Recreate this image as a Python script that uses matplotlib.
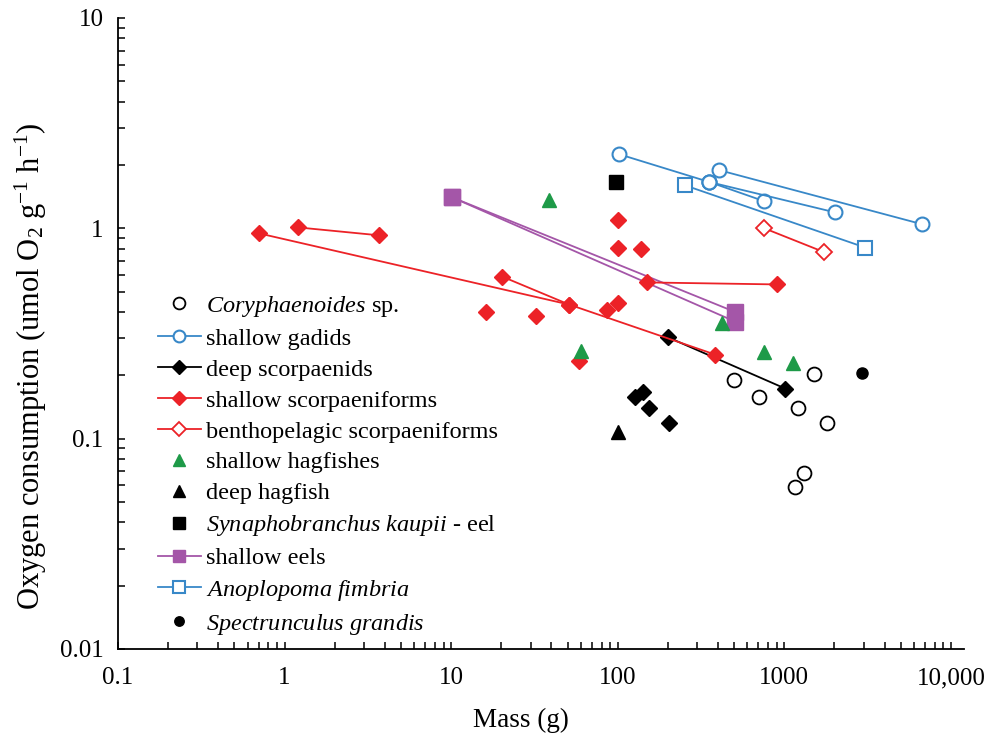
import matplotlib
matplotlib.use("Agg")
import matplotlib.pyplot as plt
from matplotlib.ticker import LogLocator, FixedLocator, NullFormatter

plt.rcParams['font.family'] = ['Liberation Serif', 'DejaVu Serif']
plt.rcParams['mathtext.fontset'] = 'custom'
plt.rcParams['mathtext.rm'] = 'Liberation Serif'
plt.rcParams['mathtext.it'] = 'Liberation Serif:italic'

# ---------------- data ----------------
cory_x = [501, 708, 1213, 1514, 1811, 1318, 1164]
cory_y = [0.189, 0.158, 0.140, 0.204, 0.119, 0.069, 0.059]

gadid_lines = [
    ([102, 355], [2.25, 1.66]),
    ([355, 759], [1.66, 1.345]),
    ([355, 2024], [1.66, 1.19]),
    ([407, 6745], [1.89, 1.045]),
]

deep_scorp_line_x = [201, 1014]
deep_scorp_line_y = [0.303, 0.173]
deep_scorp_x = [127, 142, 155, 204]
deep_scorp_y = [0.158, 0.166, 0.1405, 0.119]

shallow_scorp_lines = [
    ([0.703, 51.1, 385], [0.946, 0.434, 0.251]),
    ([1.205, 3.70], [1.01, 0.926]),
    ([20.2, 51.1], [0.59, 0.434]),
    ([150, 908], [0.553, 0.541]),
]
shallow_scorp_x = [16.2, 32.4, 100.7, 100.7, 138, 86.5, 100.7, 58.7]
shallow_scorp_y = [0.398, 0.381, 1.10, 0.81, 0.794, 0.411, 0.44, 0.235]

bentho_x = [759, 1738]
bentho_y = [1.0, 0.77]

hag_x = [38.8, 60.3, 424, 759, 1133]
hag_y = [1.36, 0.262, 0.353, 0.257, 0.228]

deep_hag_x = [100.7]
deep_hag_y = [0.108]

synaph_x = [98]
synaph_y = [1.66]

eel_lines = [
    ([10.1, 508], [1.405, 0.40]),
    ([10.1, 508], [1.405, 0.36]),
]

anop_x = [254, 3065]
anop_y = [1.60, 0.81]

spect_x = [2940]
spect_y = [0.206]

x_ticks = [0.1, 1, 10, 100, 1000, 10000]
x_ticklabels = ['0.1', '1', '10', '100', '1000', '10,000']
y_ticks = [0.01, 0.1, 1, 10]
y_ticklabels = ['0.01', '0.1', '1', '10']

# ---------------- colors ----------------
BLUE = '#3888c8'
RED = '#ec2227'
GREEN = '#1e9a48'
PURPLE = '#a456a8'
BLACK = '#000000'

fig = plt.figure(figsize=(9.86, 7.40), dpi=100)
ax = fig.add_axes([0.1197, 0.1230, 0.858, 0.8527])
ax.set_xscale('log')
ax.set_yscale('log')

lw = 1.3
ms_c = 10
ms_d = 8

# Coryphaenoides
ax.plot(cory_x, cory_y, ls='none', marker='o', mfc='white', mec=BLACK,
        mew=1.3, ms=ms_c, label=r'$\it{Coryphaenoides}$ sp.', zorder=3)

# shallow gadids
for i, (xs, ys) in enumerate(gadid_lines):
    ax.plot(xs, ys, color=BLUE, lw=lw, marker='o', mfc='white', mec=BLUE,
            mew=1.5, ms=ms_c, label='shallow gadids' if i == 0 else None, zorder=3)

# deep scorpaenids
ax.plot(deep_scorp_line_x, deep_scorp_line_y, color=BLACK, lw=lw, marker='D',
        ms=ms_d, mfc=BLACK, mec=BLACK, label='deep scorpaenids', zorder=2)
ax.plot(deep_scorp_x, deep_scorp_y, ls='none', marker='D', ms=ms_d,
        mfc=BLACK, mec=BLACK, zorder=3)

# shallow scorpaeniforms
for i, (xs, ys) in enumerate(shallow_scorp_lines):
    ax.plot(xs, ys, color=RED, lw=lw, marker='D', ms=ms_d, mfc=RED, mec=RED,
            label='shallow scorpaeniforms' if i == 0 else None, zorder=3)
ax.plot(shallow_scorp_x, shallow_scorp_y, ls='none', marker='D', ms=ms_d,
        mfc=RED, mec=RED, zorder=3)

# benthopelagic scorpaeniforms
ax.plot(bentho_x, bentho_y, color=RED, lw=lw, marker='D', ms=ms_d, mfc='white',
        mec=RED, mew=1.3, label='benthopelagic scorpaeniforms', zorder=3)

# shallow hagfishes
ax.plot(hag_x, hag_y, ls='none', marker='^', ms=10.5, mfc=GREEN, mec=GREEN,
        label='shallow hagfishes', zorder=3)

# deep hagfish
ax.plot(deep_hag_x, deep_hag_y, ls='none', marker='^', ms=10.5, mfc=BLACK,
        mec=BLACK, label='deep hagfish', zorder=3)

# Synaphobranchus
ax.plot(synaph_x, synaph_y, ls='none', marker='s', ms=9.5, mfc=BLACK, mec=BLACK,
        label=r'$\it{Synaphobranchus\ kaupii}$ - eel', zorder=3)

# shallow eels
for i, (xs, ys) in enumerate(eel_lines):
    ax.plot(xs, ys, color=PURPLE, lw=lw, marker='s', ms=11, mfc=PURPLE,
            mec=PURPLE, label='shallow eels' if i == 0 else None, zorder=2)

# Anoplopoma
ax.plot(anop_x, anop_y, color=BLUE, lw=lw, marker='s', ms=10.5, mfc='white',
        mec=BLUE, mew=1.5, label=r'$\it{Anoplopoma\ fimbria}$', zorder=3)

# Spectrunculus
ax.plot(spect_x, spect_y, ls='none', marker='o', ms=8, mfc=BLACK, mec=BLACK,
        label=r'$\it{Spectrunculus\ grandis}$', zorder=3)

# ---------------- axes ----------------
ax.set_xlim(0.1, 12000)
ax.set_ylim(0.01, 10)
for s in ['top', 'right']:
    ax.spines[s].set_visible(False)
for s in ['left', 'bottom']:
    ax.spines[s].set_linewidth(1.3)

ax.xaxis.set_major_locator(FixedLocator(x_ticks))
ax.set_xticklabels(x_ticklabels)
ax.xaxis.set_minor_locator(LogLocator(base=10, subs=range(2, 10), numticks=20))
ax.xaxis.set_minor_formatter(NullFormatter())
ax.yaxis.set_major_locator(FixedLocator(y_ticks))
ax.set_yticklabels(y_ticklabels)
ax.yaxis.set_minor_locator(LogLocator(base=10, subs=range(2, 10), numticks=20))
ax.yaxis.set_minor_formatter(NullFormatter())

ax.tick_params(axis='x', which='both', direction='in', length=5, width=1.1)
ax.tick_params(axis='x', which='major', labelsize=18, pad=13)
ax.tick_params(axis='y', which='both', direction='in', length=5, width=1.1)
ax.tick_params(axis='y', which='major', labelsize=18, pad=10.5)

ax.set_xlabel('Mass (g)', fontsize=19.5)
ax.xaxis.set_label_coords(0.476, -0.093)
ax.set_ylabel(r'Oxygen consumption (umol O$_2$ g$^{-1}$ h$^{-1}$)', fontsize=22)
ax.yaxis.set_label_coords(-0.082, 0.448)

leg = ax.legend(loc='upper left', bbox_to_anchor=(0.036, 0.578), frameon=False,
                fontsize=17.5, handlelength=1.75, handletextpad=0.2,
                labelspacing=0.365, markerscale=0.85, borderaxespad=0)

fig.savefig('out.png', dpi=100)
